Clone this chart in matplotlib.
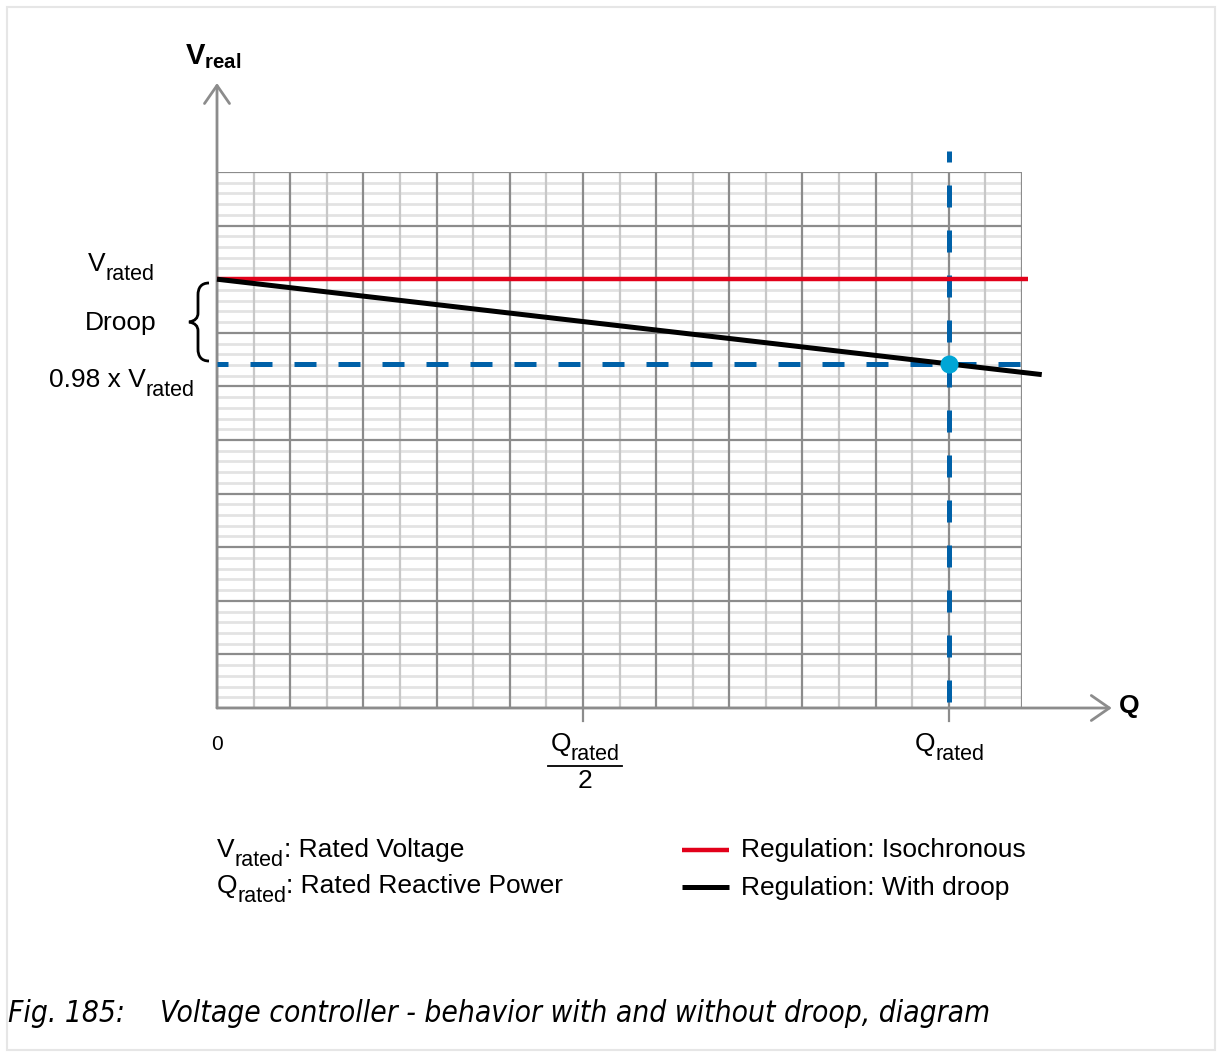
import numpy as np
import matplotlib
matplotlib.use("Agg")
import matplotlib.pyplot as plt
from matplotlib.patches import Rectangle, PathPatch
from matplotlib.path import Path
from matplotlib.lines import Line2D

plt.rcParams['font.family'] = ['Liberation Sans', 'DejaVu Sans']
plt.rcParams['mathtext.fontset'] = 'custom'
plt.rcParams['mathtext.rm'] = 'Liberation Sans'
plt.rcParams['mathtext.it'] = 'Liberation Sans:italic'
plt.rcParams['mathtext.bf'] = 'Liberation Sans:bold'

# ---------------- data (Q in units of Q_rated, V in grid units) ----------------
q_grid_max = 1.1          # grid extends to 1.1 x Q_rated
v_grid_max = 10           # 10 major grid rows
q_rated = 1.0
v_rated = 8.0             # level of V_rated
v_098 = 6.42              # level of 0.98 x V_rated
iso_q = [0.0, 1.108]
iso_v = [8.0, 8.0]
droop_q = [0.0, 1.0, 1.127]
droop_v = [8.0, 6.42, 6.22]
tick_q = [0.0, 0.5, 1.0]

W, H = 1222, 1057
fig = plt.figure(figsize=(W / 100, H / 100), dpi=100)
renderer = fig.canvas.get_renderer()

def fx(x):
    return x / W

def fy(y):
    return 1 - y / H

FS = 19
SUB = 15.5
SUB_DY = 9

def rich(x, y, parts, ha='left'):
    """parts: list of (text, fontsize, dy_px, weight); x, y in pixels (y = baseline, from top)."""
    arts = []
    widths = []
    for txt, size, dy, weight in parts:
        t = fig.text(0, 0, txt, fontsize=size, fontweight=weight, ha='left', va='baseline')
        w = t.get_window_extent(renderer).width
        arts.append((t, dy))
        widths.append(w)
    total = sum(widths)
    if ha == 'center':
        x0 = x - total / 2
    elif ha == 'right':
        x0 = x - total
    else:
        x0 = x
    cur = x0
    for (t, dy), w in zip(arts, widths):
        t.set_position((fx(cur), fy(y + dy)))
        cur += w
    return arts

ax = fig.add_axes([fx(217), fy(708), (1022 - 217) / W, (708 - 172) / H])
ax.set_xlim(0, q_grid_max)
ax.set_ylim(0, v_grid_max)
ax.axis('off')

# ---------------- grid ----------------
q_major = np.arange(0, q_grid_max + 1e-9, 0.1)
q_minor = np.arange(0.05, q_grid_max, 0.1)
v_major = np.arange(0, v_grid_max + 1e-9, 1)
v_minor = np.array([m + k / 5 for m in range(v_grid_max) for k in range(1, 5)])

ax.hlines(v_minor, 0, q_grid_max, colors='#e3e3e3', lw=2.0, zorder=1)
ax.vlines(q_minor, 0, v_grid_max, colors='#c8c8c8', lw=1.6, zorder=2)
ax.hlines(v_major, 0, q_grid_max, colors='#8c8c8c', lw=1.6, zorder=3)
ax.vlines(q_major, 0, v_grid_max, colors='#8c8c8c', lw=1.6, zorder=3)

# ---------------- axes arrows ----------------
arrow_kw = dict(arrowstyle='->,head_length=0.65,head_width=0.45', color='#8c8c8c',
                lw=2.0, mutation_scale=20, shrinkA=0, shrinkB=0)
ax.annotate('', xy=(0, 11.66), xytext=(0, 0), arrowprops=arrow_kw, annotation_clip=False, zorder=4)
ax.annotate('', xy=(1.2227, 0), xytext=(0, 0), arrowprops=arrow_kw, annotation_clip=False, zorder=4)

# tick marks below the x axis
for q in tick_q[1:]:
    ax.plot([q, q], [0, -0.25], color='#8c8c8c', lw=1.6, clip_on=False, zorder=4)

# ---------------- data lines ----------------
blue = '#0061a8'
ax.plot([0, 1.102], [v_098, v_098], color=blue, lw=3.6,
        linestyle=(2.2, (4.4, 4.4)), clip_on=False, zorder=5)
ax.plot([q_rated, q_rated], [10.4, -0.11], color=blue, lw=3.6,
        linestyle=(2.2, (4.4, 4.6)), clip_on=False, zorder=5)
ax.plot(iso_q, iso_v, color='#e2001a', lw=3.2, solid_capstyle='butt', clip_on=False, zorder=6)
ax.plot(droop_q, droop_v, color='black', lw=3.6, solid_capstyle='butt', clip_on=False, zorder=7)
ax.plot([q_rated], [v_098], 'o', color='#00a6d6', ms=13, mec='none', clip_on=False, zorder=8)

# ---------------- labels ----------------
fig.text(fx(185), fy(64), r'$\mathbf{V}_{\mathbf{real}}$', fontsize=21, ha='left', va='baseline')
fig.text(fx(1118), fy(707), r'$\mathbf{Q}$', fontsize=19, ha='left', va='center')

rich(121, 271, [('V', FS, 0, 'normal'), ('rated', SUB, SUB_DY, 'normal')], ha='center')
rich(121, 330, [('Droop', FS, 0, 'normal')], ha='center')
rich(122, 387, [('0.98 x V', FS, 0, 'normal'), ('rated', SUB, SUB_DY, 'normal')], ha='center')

# brace
bx = [209, 201, 198, 198, 198, 198, 195, 189, 195, 198, 198, 198, 198, 201, 209]
by = [283, 283, 288, 295, 313, 318, 321, 322, 323, 326, 331, 349, 356, 361, 361]
codes = [Path.MOVETO, Path.CURVE4, Path.CURVE4, Path.CURVE4, Path.LINETO,
         Path.CURVE4, Path.CURVE4, Path.CURVE4, Path.CURVE4, Path.CURVE4, Path.CURVE4,
         Path.LINETO, Path.CURVE4, Path.CURVE4, Path.CURVE4]
brace = Path([(fx(a), fy(b)) for a, b in zip(bx, by)], codes)
fig.add_artist(PathPatch(brace, transform=fig.transFigure, fill=False, lw=2.0, edgecolor='black'))

# x tick labels
fig.text(fx(217), fy(744), '0', fontsize=15, ha='center', va='center')
rich(585, 751, [('Q', FS, 0, 'normal'), ('rated', SUB, SUB_DY, 'normal')], ha='center')
fig.add_artist(Line2D([fx(548), fx(622)], [fy(766), fy(766)], transform=fig.transFigure,
                      color='black', lw=1.3))
fig.text(fx(585), fy(788), '2', fontsize=FS, ha='center', va='baseline')
rich(950, 751, [('Q', FS, 0, 'normal'), ('rated', SUB, SUB_DY, 'normal')], ha='center')

# key text
rich(217, 857, [('V', FS, 0, 'normal'), ('rated', SUB, SUB_DY, 'normal'),
                (': Rated Voltage', FS, 0, 'normal')])
rich(217, 893, [('Q', FS, 0, 'normal'), ('rated', SUB, SUB_DY, 'normal'),
                (': Rated Reactive Power', FS, 0, 'normal')])

fig.add_artist(Line2D([fx(682), fx(729)], [fy(850), fy(850)], transform=fig.transFigure,
                      color='#e2001a', lw=3.2, solid_capstyle='butt'))
fig.add_artist(Line2D([fx(682), fx(729)], [fy(887), fy(887)], transform=fig.transFigure,
                      color='black', lw=3.6, solid_capstyle='butt'))
fig.text(fx(741), fy(857), 'Regulation: Isochronous', fontsize=FS, ha='left', va='baseline')
fig.text(fx(741), fy(895), 'Regulation: With droop', fontsize=FS, ha='left', va='baseline')

# caption
cap_kw = dict(fontsize=21.4, ha='left', va='baseline', family='DejaVu Sans',
              style='italic', stretch='condensed')
fig.text(fx(8), fy(1022), 'Fig. 185:', **cap_kw)
fig.text(fx(160), fy(1022), 'Voltage controller - behavior with and without droop, diagram', **cap_kw)

# frame
fig.add_artist(Rectangle((fx(7), fy(1050)), (1215 - 7) / W, (1050 - 7) / H,
                         transform=fig.transFigure, fill=False, edgecolor='#e6e6e6', lw=1.5))

fig.savefig('out.png', dpi=100)
